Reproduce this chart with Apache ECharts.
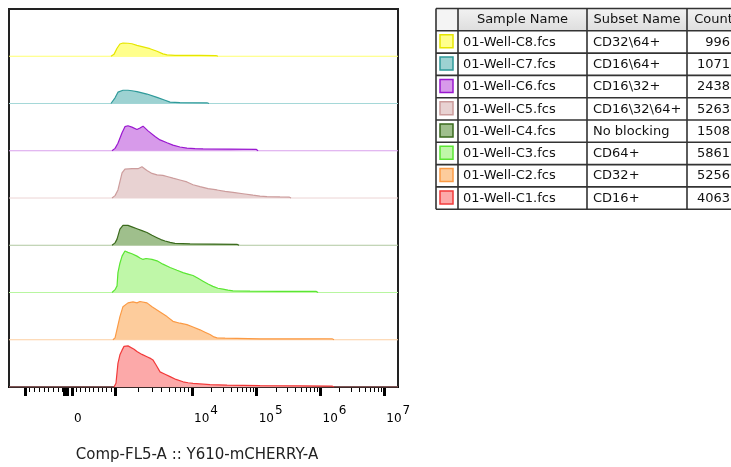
<!DOCTYPE html>
<html><head><meta charset="utf-8">
<script src="https://cdn.jsdelivr.net/npm/echarts@6/dist/echarts.min.js"></script>
<style>html,body{margin:0;padding:0;background:#fff}#c{width:731px;height:467px}</style>
</head><body><div id="c"></div>
<script>
// ---- table data (top to bottom) ----
const sampleNames = ['01-Well-C8.fcs','01-Well-C7.fcs','01-Well-C6.fcs','01-Well-C5.fcs','01-Well-C4.fcs','01-Well-C3.fcs','01-Well-C2.fcs','01-Well-C1.fcs'];
const subsetNames = ['CD32\\64+','CD16\\64+','CD16\\32+','CD16\\32\\64+','No blocking','CD64+','CD32+','CD16+'];
const counts = [996, 1071, 2438, 5263, 1508, 5861, 5256, 4063];
const headers = ['Sample Name','Subset Name','Count'];

// ---- axis ticks (channel units, 0..256) ----
const majorTickVals = [10.5, 36.2, 38.4, 41.5, 70, 120.5, 163, 205, 247];
const labelVals = [41.5, 120.5, 163, 205, 247];
const labelTexts = ['0', '10^4', '10^5', '10^6', '10^7'];
const decadeBounds = [70, 120.5, 163, 205, 247];
const linearBounds = [10.5, 41.5, 70];

// ---- histograms: [channel, height as % of lane] ----
const histC8 = [[67.1,0],[69.1,4],[71.1,17],[73.0,26],[75.0,28],[78.3,27.5],[80.9,26.5],[84.2,23],[88.2,20],[92.8,16],[97.4,10.5],[101.3,5],[104.0,3],[109.2,2],[125.7,1.7],[136.2,1.5],[137.5,0]];
const histC7 = [[67.1,0],[69.8,12],[71.7,24],[75.0,28],[78.3,28],[80.9,27],[84.2,25],[90.8,20],[97.4,13],[102.7,7],[106.0,3],[112.5,2],[130.3,1.5],[131.6,0]];
const histC6 = [[67.8,0],[69.8,5],[71.7,16],[74.4,38],[76.3,51],[78.3,53],[80.9,50],[84.2,45],[86.2,48],[88.2,52],[91.5,42],[96.1,30],[99.4,23],[104.0,17],[107.9,12],[112.5,8],[117.1,5.5],[122.4,4.5],[127.7,4],[145.4,3.5],[162.6,3],[163.9,0]];
const histC5 = [[67.8,0],[69.8,5],[71.7,17],[74.4,53],[76.3,61],[80.9,62],[84.9,62],[87.5,66],[90.8,58],[94.1,52],[97.4,49],[101.3,48],[104.6,45],[107.9,42],[112.5,38],[117.1,34],[121.1,28],[125.7,24],[131.0,20],[136.9,17],[142.2,14],[147.4,12],[154.0,9],[160.6,6],[165.2,4],[169.8,2.8],[178.3,2.2],[184.3,2],[185.6,0]];
const histC4 = [[67.8,0],[69.8,5],[71.1,13],[73.0,34],[75.0,42],[76.3,44],[78.3,42],[80.9,39],[84.2,35],[87.5,31],[90.8,27],[94.1,21],[97.4,16],[100.0,12],[102.7,9],[106.0,6],[109.2,4],[119.1,3],[150.0,2],[151.4,0]];
const histC3 = [[67.8,0],[69.8,6],[71.1,14],[71.7,42],[73.0,62],[74.4,77],[76.3,88],[78.3,85],[80.9,82],[84.2,77],[86.2,73],[88.2,70],[90.2,72],[91.5,74],[94.1,70],[97.4,67],[101.3,60],[106.0,53],[110.6,47],[114.5,42],[117.8,39],[121.1,36],[124.4,30],[127.7,24],[131.0,18],[134.2,13],[137.5,9],[140.8,7],[144.1,5],[147.4,3.5],[158.6,3],[178.3,2.5],[202.0,2.5],[203.4,0]];
const histC2 = [[68.4,0],[69.8,4],[71.1,7],[73.0,49],[75.0,70],[78.3,78],[81.6,80],[84.2,78],[86.2,81],[87.5,83],[90.8,78],[94.1,70],[97.4,63],[100.7,56],[104.0,49],[107.9,39],[112.5,35],[117.1,32],[121.1,27],[125.7,21],[129.0,16],[132.3,11],[134.9,6],[136.9,4],[142.2,3.5],[150.0,3],[165.2,2],[191.5,2],[212.6,2],[213.9,0]];
const histC1 = [[69.1,0],[70.4,8],[71.7,50],[73.0,68],[74.4,78],[75.7,86],[77.0,89],[78.3,87],[79.6,85],[82.3,80],[84.2,75],[87.5,69],[90.8,64],[93.4,60],[94.8,57],[96.7,47],[99.4,32],[102.7,27],[106.0,22],[109.9,16],[114.5,11],[117.8,9],[121.1,7.5],[132.3,5],[143.5,4],[165.2,3],[191.5,2.5],[212.6,2],[213.9,0]];
const hists = [histC8, histC7, histC6, histC5, histC4, histC3, histC2, histC1];

// ---- styles ----
const lineColors = ['#e6e600','#2f9a9a','#9a18d0','#cc9c9c','#3a6a1c','#5ae632','#fb9a44','#f23a3a'];
const fillColors = ['#ffff8c','#9dd2d2','#d79aea','#e8d2d2','#9fbf8c','#bff7a8','#fdcc9c','#fca9a9'];
const baseColors = ['#ffff70','#a5d8d8','#d9a0ec','#ecd4d4','#b0c8a0','#b8f6a0','#fdcfa2','#fcaaaa'];

// minor ticks
const minorTickVals = [];
for (let d = 0; d < decadeBounds.length - 1; d++) {
  const a = decadeBounds[d], b = decadeBounds[d + 1];
  for (let k = 2; k <= 9; k++) minorTickVals.push(a + (b - a) * Math.log10(k));
}
for (let s = 0; s < linearBounds.length - 1; s++) {
  const a = linearBounds[s], b = linearBounds[s + 1];
  for (let k = 1; k <= 9; k++) minorTickVals.push(a + (b - a) * k / 10);
}

const LANE = 100, XMIN = 0, XMAX = 256;
const series = [];
hists.forEach((h, i) => {
  const base = (hists.length - 1 - i) * LANE;
  series.push({
    type: 'line', xAxisIndex: 0, yAxisIndex: 0, name: 'base' + i,
    data: [[XMIN, base], [XMAX, base]],
    symbol: 'none', showSymbol: false, animation: false, silent: true,
    lineStyle: { color: baseColors[i], width: 1 }, z: 2
  });
  series.push({
    type: 'line', xAxisIndex: 0, yAxisIndex: 0, name: sampleNames[i],
    data: h.map(p => [p[0], base + p[1]]),
    symbol: 'none', showSymbol: false, smooth: false, animation: false,
    lineStyle: { color: lineColors[i], width: 1.2 },
    itemStyle: { color: lineColors[i] },
    areaStyle: { color: fillColors[i], opacity: 1, origin: base },
    z: 3
  });
});

// ---- table graphics ----
const colX = [436, 458, 587, 687, 740];
const rowY = k => 8.5 + k * 22.3;
const nRows = sampleNames.length + 1;
const g = [];
g.push({ type: 'rect', shape: { x: colX[0], y: rowY(0), width: colX[1] - colX[0], height: 22.3 }, style: { fill: '#f4f4f4' } });
g.push({ type: 'rect', shape: { x: colX[1], y: rowY(0), width: colX[4] - colX[1], height: 22.3 },
  style: { fill: new echarts.graphic.LinearGradient(0, 0, 0, 1, [{ offset: 0, color: '#f2f2f2' }, { offset: 1, color: '#dedede' }]) } });
const font = '13px "DejaVu Sans"';
headers.forEach((t, j) => {
  g.push({ type: 'text', x: (colX[j + 1] + colX[j + 2]) / 2, y: rowY(0) + 11.5,
    style: { text: t, font, fill: '#111', align: 'center', verticalAlign: 'middle' } });
});
sampleNames.forEach((nm, i) => {
  const y0 = rowY(i + 1), cy = y0 + 11.5;
  g.push({ type: 'rect', shape: { x: 440, y: y0 + 4, width: 13, height: 13 },
    style: { fill: fillColors[i], stroke: lineColors[i], lineWidth: 1.5 } });
  g.push({ type: 'text', x: colX[1] + 5, y: cy, style: { text: nm, font, fill: '#111', align: 'left', verticalAlign: 'middle' } });
  g.push({ type: 'text', x: colX[2] + 6, y: cy, style: { text: subsetNames[i], font, fill: '#111', align: 'left', verticalAlign: 'middle' } });
  g.push({ type: 'text', x: 730, y: cy, style: { text: String(counts[i]), font, fill: '#111', align: 'right', verticalAlign: 'middle' } });
});
for (let k = 0; k < nRows + 1; k++) {
  g.push({ type: 'line', shape: { x1: colX[0], y1: rowY(k), x2: colX[4], y2: rowY(k) }, style: { stroke: '#333', lineWidth: 1.6 } });
}
colX.forEach(x => {
  g.push({ type: 'line', shape: { x1: x, y1: rowY(0), x2: x, y2: rowY(nRows) }, style: { stroke: '#333', lineWidth: 1.6 } });
});
g.push({ type: 'text', x: 197, y: 455, style: { text: 'Comp-FL5-A :: Y610-mCHERRY-A', font: '15px "DejaVu Sans"', fill: '#222', align: 'center', verticalAlign: 'middle' } });

const chart = echarts.init(document.getElementById('c'), null, { renderer: 'canvas' });
chart.setOption({
  animation: false,
  backgroundColor: '#fff',
  grid: { left: 9, right: 333, top: 9, bottom: 80, show: true, borderColor: '#222', borderWidth: 2, backgroundColor: 'transparent' },
  xAxis: [
    { type: 'value', min: XMIN, max: XMAX, position: 'bottom',
      axisLine: { show: true, lineStyle: { color: '#000', width: 2 } },
      splitLine: { show: false },
      axisTick: { show: true, customValues: majorTickVals, length: 9, lineStyle: { color: '#000', width: 3 } },
      axisLabel: {
        show: true, customValues: labelVals, align: 'left', margin: 18, padding: [0, 0, 0, 2],
        formatter: v => {
          const idx = labelVals.findIndex(x => Math.abs(x - v) < 0.01);
          const t = idx >= 0 ? labelTexts[idx] : '';
          if (t.indexOf('^') > 0) { const [b, e] = t.split('^'); return '{b|' + b + '}{s|' + e + '}'; }
          return '{b|' + t + '}';
        },
        rich: {
          b: { fontSize: 12, fontFamily: 'DejaVu Sans', color: '#000', lineHeight: 20, verticalAlign: 'bottom' },
          s: { fontSize: 12, fontFamily: 'DejaVu Sans', color: '#000', lineHeight: 20, verticalAlign: 'top', padding: [0, 0, 0, 1] }
        }
      }
    },
    { type: 'value', min: XMIN, max: XMAX, position: 'bottom', offset: 0,
      axisLine: { show: false }, splitLine: { show: false },
      axisTick: { show: true, customValues: minorTickVals, length: 5, lineStyle: { color: '#000', width: 1 } },
      axisLabel: { show: false }
    }
  ],
  yAxis: { type: 'value', min: 0, max: LANE * hists.length, show: false, splitLine: { show: false } },
  series: series,
  graphic: g
});
</script>
</body></html>
